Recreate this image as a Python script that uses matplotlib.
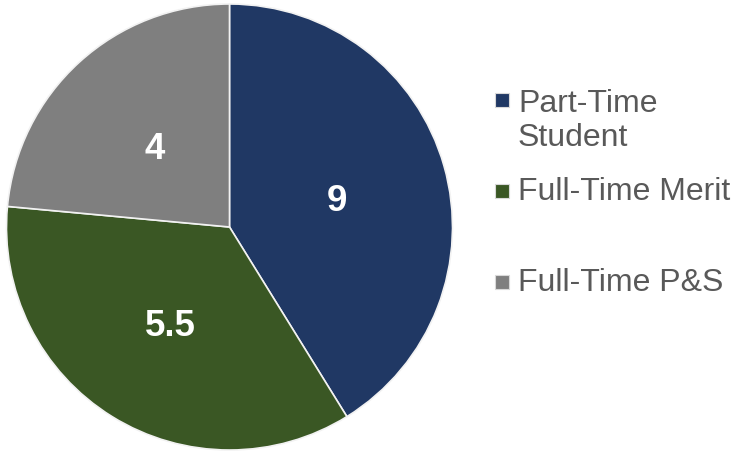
import matplotlib.pyplot as plt
from matplotlib.patches import Rectangle

# wedge sizes as drawn, and the numbers printed on them
categories = ["Part-Time\nStudent", "Full-Time Merit", "Full-Time P&S"]
wedge_sizes = [7, 6, 4]
value_labels = ["9", "5.5", "4"]
colors = ["#203864", "#3A5724", "#7F7F7F"]

plt.rcParams['font.family'] = ['Liberation Sans', 'DejaVu Sans']

fig = plt.figure(figsize=(7.34, 4.52), dpi=100)
ax = fig.add_axes([6.5 / 734, 1 / 452, 446 / 734, 446 / 452])

wedges, texts = ax.pie(wedge_sizes, labels=value_labels, colors=colors,
                       startangle=90, counterclock=False, labeldistance=0.5,
                       wedgeprops=dict(edgecolor='#f2f2f2', linewidth=1.2),
                       textprops=dict(color='white', fontsize=26.5, fontweight='bold'))
for t in texts:
    t.set_ha('center')
    t.set_va('center_baseline')
ax.set_xlim(-1.0, 1.0)
ax.set_ylim(-1.0, 1.0)
ax.set_aspect('equal')

# legend drawn by hand to match the layout
legend_y = [121, 192, 283]  # pixel rows from the top (text centre)
marker_y = [101, 192, 283]
for name, col, y, my in zip(categories, colors, legend_y, marker_y):
    fig.patches.append(Rectangle((495 / 734, 1 - (my + 7) / 452), 14 / 734, 14 / 452,
                                 transform=fig.transFigure, facecolor=col,
                                 edgecolor='#d9d9d9', linewidth=0.8))
    fig.text(518 / 734, 1 - y / 452, name, fontsize=23, color='#595959',
             va='center', ha='left', linespacing=1.15)

fig.savefig("out.png", dpi=100)
